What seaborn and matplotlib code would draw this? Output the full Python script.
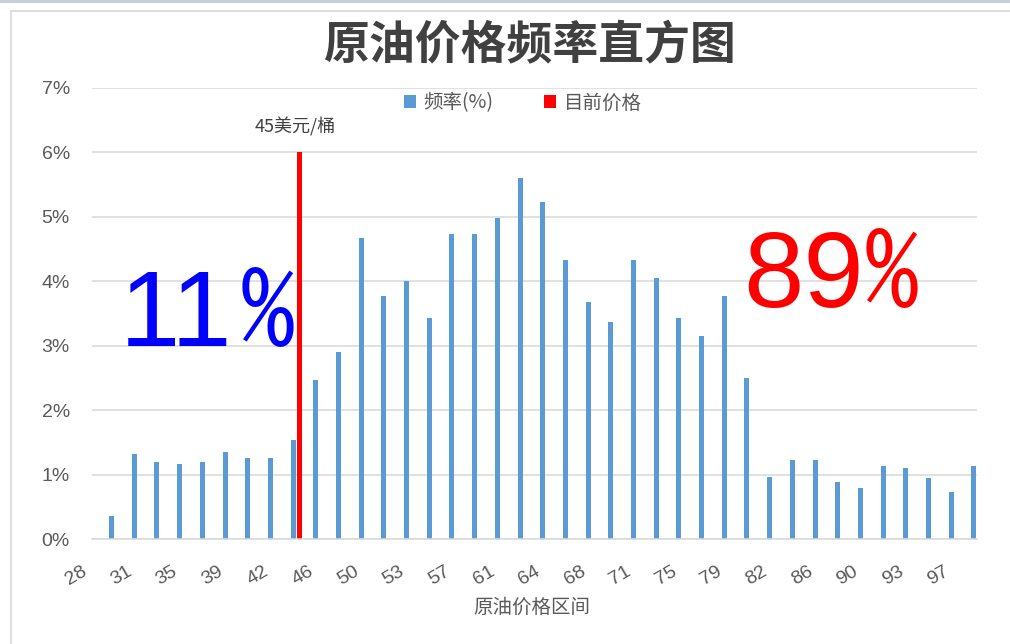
import numpy as np
import pandas as pd
import matplotlib
matplotlib.use("Agg")
import matplotlib.pyplot as plt
import seaborn as sns
from matplotlib.patches import Rectangle
from matplotlib.transforms import ScaledTranslation

# Frequency (%) of crude oil price in each price bin (39 bins)
freq_pct = [0.35, 1.32, 1.19, 1.16, 1.19, 1.35, 1.25, 1.25, 1.54,
            2.47, 2.90, 4.67, 3.77, 4.00, 3.43, 4.74, 4.74, 4.99,
            5.61, 5.23, 4.33, 3.68, 3.37, 4.33, 4.05, 3.43, 3.15,
            3.77, 2.50, 0.97, 1.22, 1.22, 0.88, 0.79, 1.13, 1.10,
            0.94, 0.73, 1.13]
# Labels shown on every other bin
tick_labels = ["28", "31", "35", "39", "42", "46", "50", "53", "57", "61",
               "64", "68", "71", "75", "79", "82", "86", "90", "93", "97"]
# Current price marker: bin index and bar height
current_bin = 9
current_height = 6.0
current_label = "45美元/桶"
# Shares of probability below / above the current price
below_digits, above_digits = "11", "89"
pct_sign = "%"

freq_name = "频率(%)"
price_name = "目前价格"
title = "原油价格频率直方图"
xlabel = "原油价格区间"

BLUE = "#5b9bd5"
RED = "#ff0000"
GRAY = "#595959"

sns.set_theme(style="white")
plt.rcParams["font.family"] = ["Noto Sans CJK SC", "DejaVu Sans"]

n = len(freq_pct)
bins = list(range(n))
df = pd.DataFrame({
    "bin": bins + [current_bin],
    "series": [freq_name] * n + [price_name],
    "value": freq_pct + [current_height],
})

fig = plt.figure(figsize=(10.1, 6.44), dpi=100)
ax = fig.add_axes([92 / 1010, 1 - 539 / 644, (977 - 92) / 1010, (539 - 88) / 644])

sns.barplot(data=df, x="bin", y="value", hue="series",
            hue_order=[price_name, freq_name],
            palette={freq_name: BLUE, price_name: RED},
            width=1.45, gap=0.7, dodge=True, errorbar=None,
            saturation=1, linewidth=0, ax=ax)

ax.set_xlim(-0.5, n - 0.5)
ax.set_ylim(0, 7)
ax.set_yticks(range(8))
ax.set_yticklabels([f"{v}%" for v in range(8)], family=["Liberation Sans", "DejaVu Sans"],
                   fontsize=14, color=GRAY)
ax.tick_params(axis="y", length=0, pad=16)
ax.yaxis.grid(True, color="#d9d9d9", linewidth=1.1)
ax.set_axisbelow(True)
for side in ["left", "right", "top"]:
    ax.spines[side].set_visible(False)
ax.spines["bottom"].set_color("#d9d9d9")
ax.spines["bottom"].set_linewidth(1.1)

ax.set_xticks(range(0, n, 2))
ax.set_xticklabels(tick_labels, rotation=30, ha="right", va="center",
                   rotation_mode="anchor", fontsize=14, color=GRAY,
                   family=["Liberation Sans", "DejaVu Sans"])
ax.tick_params(axis="x", length=0, pad=22.5)
shift = ScaledTranslation(-18 / 100, 0, fig.dpi_scale_trans)
for lbl in ax.get_xticklabels():
    lbl.set_transform(lbl.get_transform() + shift)

ax.set_ylabel("")
ax.set_xlabel(xlabel, fontsize=14, color=GRAY)
ax.xaxis.set_label_coords((532 - 92) / 885, -(607 - 539) / 451)
ax.xaxis.label.set_va("center")

# Legend: frequency first, then current price
handles, labels = ax.get_legend_handles_labels()
order = [labels.index(freq_name), labels.index(price_name)]
ax.legend([handles[i] for i in order], [labels[i] for i in order],
          loc="center", bbox_to_anchor=((523 - 92) / 885, (539 - 103) / 451),
          ncol=2, frameon=False, fontsize=14, labelcolor=GRAY,
          handlelength=0.6, handleheight=0.6, handletextpad=0.4,
          columnspacing=2.6)

# Label above the current-price bar
red_bar = [p for p in ax.patches if p.get_height() > 0 and
           np.allclose(p.get_facecolor()[:3], matplotlib.colors.to_rgb(RED))][0]
red_x = red_bar.get_x() + red_bar.get_width() / 2
ax.text(red_x - 0.2, 6.4, current_label, ha="center", va="center",
        fontsize=13, color="#404040")

# Large share annotations: digits in a sans face, narrow percent sign
digit_font = ["Liberation Sans", "DejaVu Sans"]
pct_font = ["Noto Sans Mono CJK SC", "DejaVu Sans Mono"]
ax.text(0.72, 3.0, below_digits, ha="left", va="baseline", fontsize=78,
        color="#0000ff", family=digit_font)
ax.text(8.45, 3.0, pct_sign, ha="right", va="baseline", fontsize=78,
        color="#0000ff", family=pct_font)
ax.text(28.18, 3.6, above_digits, ha="left", va="baseline", fontsize=78,
        color=RED, family=digit_font)
ax.text(33.55, 3.6, pct_sign, ha="left", va="baseline", fontsize=78,
        color=RED, family=pct_font)

fig.text(529 / 1010, 1 - 46 / 644, title, ha="center", va="center",
         fontsize=33, fontweight="bold", color="#404040")

# Chart frame and top strip
fig.add_artist(Rectangle((11 / 1010, -0.05), 1.0, (644 - 11) / 644 + 0.05,
                         transform=fig.transFigure, fill=False,
                         edgecolor="#d9d9d9", linewidth=1.2))
fig.add_artist(Rectangle((0, 1 - 3 / 644), 1, 3 / 644, transform=fig.transFigure,
                         facecolor="#c9ced6", edgecolor="none"))

fig.savefig("out.png", dpi=100)
